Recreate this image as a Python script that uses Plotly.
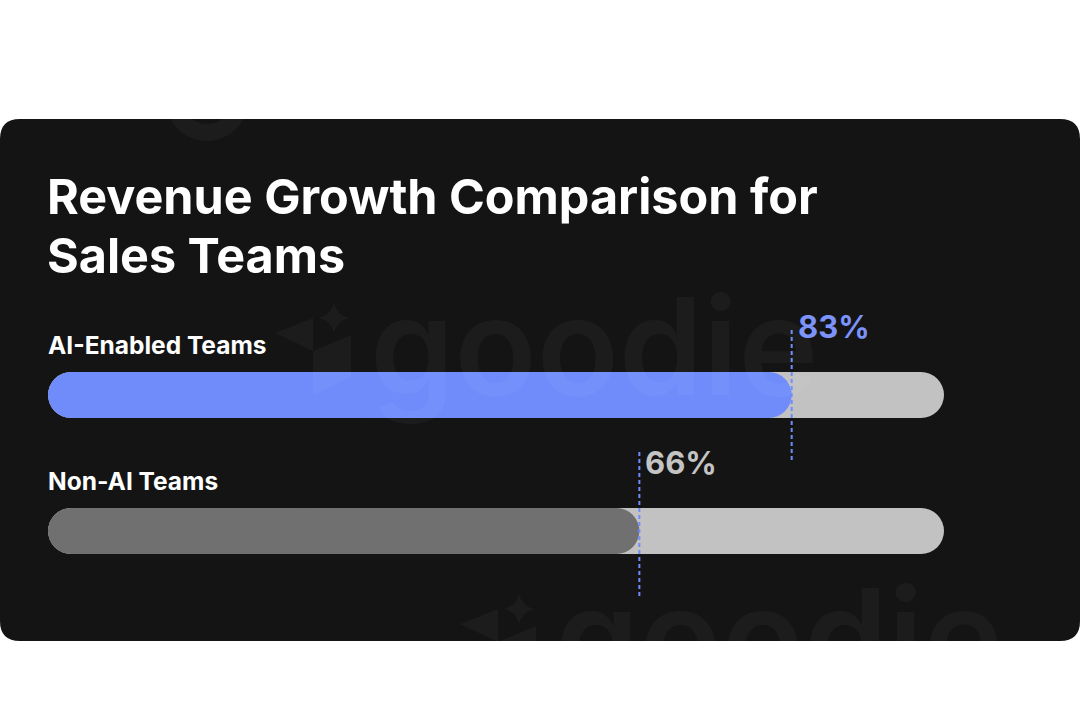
import plotly.graph_objects as go

# ---------------- data ----------------
categories = ["AI-Enabled Teams", "Non-AI Teams"]
values = [83, 66]
value_labels = ["83%", "66%"]
track_max = 100
title_lines = ["Revenue Growth Comparison for", "Sales Teams"]
watermark_text = "goodie"

fill_colors = ["#6F8CFA", "#707070"]
label_colors = ["#7B93FA", "#C4C4C4"]
track_color = "#C2C2C2"
card_color = "#141414"
dash_color = "#6F8CFA"
wm_color = "rgba(255,255,255,0.035)"

# ---------------- geometry helpers ----------------
W, H = 1080, 723
X0_PX, PX_PER_UNIT = 48, 8.96
ROW_PX = 136
BAR_PX = 46


def px(x):
    return x / W


def py(y):
    return 1 - y / H


fig = go.Figure()


def rounded_bar(cat, start, end, color):
    """Bar with both ends rounded: two overlapping pieces, each rounded at its tip."""
    length = end - start
    split_l = start + 0.5 * length
    split_r = start + 0.4 * length
    common = dict(y=[cat], orientation="h", width=BAR_PX / ROW_PX,
                  marker=dict(color=color, cornerradius="50%", line=dict(width=0)),
                  hoverinfo="skip", showlegend=False)
    fig.add_trace(go.Bar(base=[split_l], x=[start - split_l], **common))
    fig.add_trace(go.Bar(base=[split_r], x=[end - split_r], **common))


for i, cat in enumerate(categories):
    rounded_bar(cat, 0, track_max, track_color)
for i, cat in enumerate(categories):
    rounded_bar(cat, 0, values[i], fill_colors[i])

shapes = []
annotations = []

# card background
r = 20
cx0, cx1, cy0, cy1 = 0, 1080, 119, 641
rx, ry = r / W, r / H
card_path = (
    f"M {px(cx0)+rx},{py(cy0)} L {px(cx1)-rx},{py(cy0)} "
    f"Q {px(cx1)},{py(cy0)} {px(cx1)},{py(cy0)-ry} "
    f"L {px(cx1)},{py(cy1)+ry} Q {px(cx1)},{py(cy1)} {px(cx1)-rx},{py(cy1)} "
    f"L {px(cx0)+rx},{py(cy1)} Q {px(cx0)},{py(cy1)} {px(cx0)},{py(cy1)+ry} "
    f"L {px(cx0)},{py(cy0)-ry} Q {px(cx0)},{py(cy0)} {px(cx0)+rx},{py(cy0)} Z"
)
shapes.append(dict(type="path", path=card_path, xref="paper", yref="paper",
                   fillcolor=card_color, line=dict(width=0), layer="below"))

# dashed marker lines + value labels + category labels
for i, cat in enumerate(categories):
    shapes.append(dict(type="line", xref="x", yref="y", x0=values[i], x1=values[i],
                       y0=i - 0.58, y1=i + 0.48,
                       line=dict(color=dash_color, width=2, dash="4px,3px"),
                       layer="above"))
    annotations.append(dict(xref="x", yref="y", x=values[i], y=i - 0.5,
                            xanchor="left", yanchor="middle", xshift=4,
                            text=value_labels[i], showarrow=False,
                            font=dict(family="Inter", size=31, weight=700,
                                      color=label_colors[i])))
    annotations.append(dict(xref="x", yref="y", x=0, y=i - 0.37,
                            xanchor="left", yanchor="middle", xshift=-2,
                            text=cat, showarrow=False,
                            font=dict(family="Inter", size=24.5, weight=700,
                                      color="#FFFFFF")))

# title (two lines)
for k, (line, yc) in enumerate(zip(title_lines, [197, 255])):
    annotations.append(dict(xref="paper", yref="paper", x=px(45), y=py(yc),
                            xanchor="left", yanchor="middle", align="left",
                            text=line, showarrow=False,
                            font=dict(family="Inter", size=48.5, weight=700,
                                      color="#FFFFFF")))


# faint watermark tiles (text + logo)
def watermark(tx, base):
    size = 135
    annotations.append(dict(xref="paper", yref="paper", x=px(tx - 4), y=py(base - 0.365 * size),
                            xanchor="left", yanchor="middle", text=watermark_text,
                            showarrow=False,
                            font=dict(family="Inter", size=size, weight=600, color=wm_color)))

    def poly(pts):
        d = "M " + " L ".join(f"{px(tx + a)},{py(base + b)}" for a, b in pts) + " Z"
        shapes.append(dict(type="path", path=d, xref="paper", yref="paper",
                           fillcolor=wm_color, line=dict(width=0), layer="above"))

    poly([(-97, -62), (-59, -77), (-59, -44)])
    poly([(-59, -44), (-21, -60), (-21, -18), (-59, 0)])
    scx, scy, s, c = tx - 38, base - 77, 15, 3
    d = (f"M {px(scx)},{py(scy - s)} Q {px(scx + c)},{py(scy - c)} {px(scx + s)},{py(scy)} "
         f"Q {px(scx + c)},{py(scy + c)} {px(scx)},{py(scy + s)} "
         f"Q {px(scx - c)},{py(scy + c)} {px(scx - s)},{py(scy)} "
         f"Q {px(scx - c)},{py(scy - c)} {px(scx)},{py(scy - s)} Z")
    shapes.append(dict(type="path", path=d, xref="paper", yref="paper",
                       fillcolor=wm_color, line=dict(width=0), layer="above"))


watermark(372, 395)
watermark(557, 686)


# partial ring of a watermark tile peeking in at the card's top edge
def ring(cx, cy, ro, ri, dy_in):
    def circle(x, y, rr, rev):
        pts = [(x, y - rr), (x + rr, y), (x, y + rr), (x - rr, y)]
        ctrl = [(x + rr, y - rr), (x + rr, y + rr), (x - rr, y + rr), (x - rr, y - rr)]
        if rev:
            pts = [pts[0], pts[3], pts[2], pts[1]]
            ctrl = [ctrl[3], ctrl[2], ctrl[1], ctrl[0]]
        d = f"M {px(pts[0][0])},{py(pts[0][1])} "
        for j in range(4):
            c1 = ctrl[j]
            p2 = pts[(j + 1) % 4]
            # cubic approximation of a quarter circle
            p1 = pts[j]
            k = 0.5523
            a = (p1[0] + k * (c1[0] - p1[0]), p1[1] + k * (c1[1] - p1[1]))
            b = (p2[0] + k * (c1[0] - p2[0]), p2[1] + k * (c1[1] - p2[1]))
            d += (f"C {px(a[0])},{py(a[1])} {px(b[0])},{py(b[1])} "
                  f"{px(p2[0])},{py(p2[1])} ")
        return d + "Z "
    path = circle(cx, cy, ro, False) + circle(cx, cy + dy_in, ri, True)
    shapes.append(dict(type="path", path=path, xref="paper", yref="paper",
                       fillcolor=wm_color, line=dict(width=0), layer="below"))


ring(207, 100, 41, 26, -2)

x_range = [-X0_PX / PX_PER_UNIT, (W - X0_PX) / PX_PER_UNIT]
fig.update_layout(
    width=W, height=H,
    margin=dict(l=0, r=0, t=0, b=0),
    paper_bgcolor="#FFFFFF", plot_bgcolor="rgba(0,0,0,0)",
    barmode="overlay",
    showlegend=False,
    xaxis=dict(range=x_range, domain=[0, 1], visible=False, fixedrange=True),
    yaxis=dict(type="category", categoryarray=categories, categoryorder="array",
               range=[1.5, -0.5], domain=[py(599), py(327)], visible=False, fixedrange=True),
    shapes=shapes,
    annotations=annotations,
)

fig.write_html("out.html", config={"displayModeBar": False},
               post_script="document.body.style.margin='0px';")
